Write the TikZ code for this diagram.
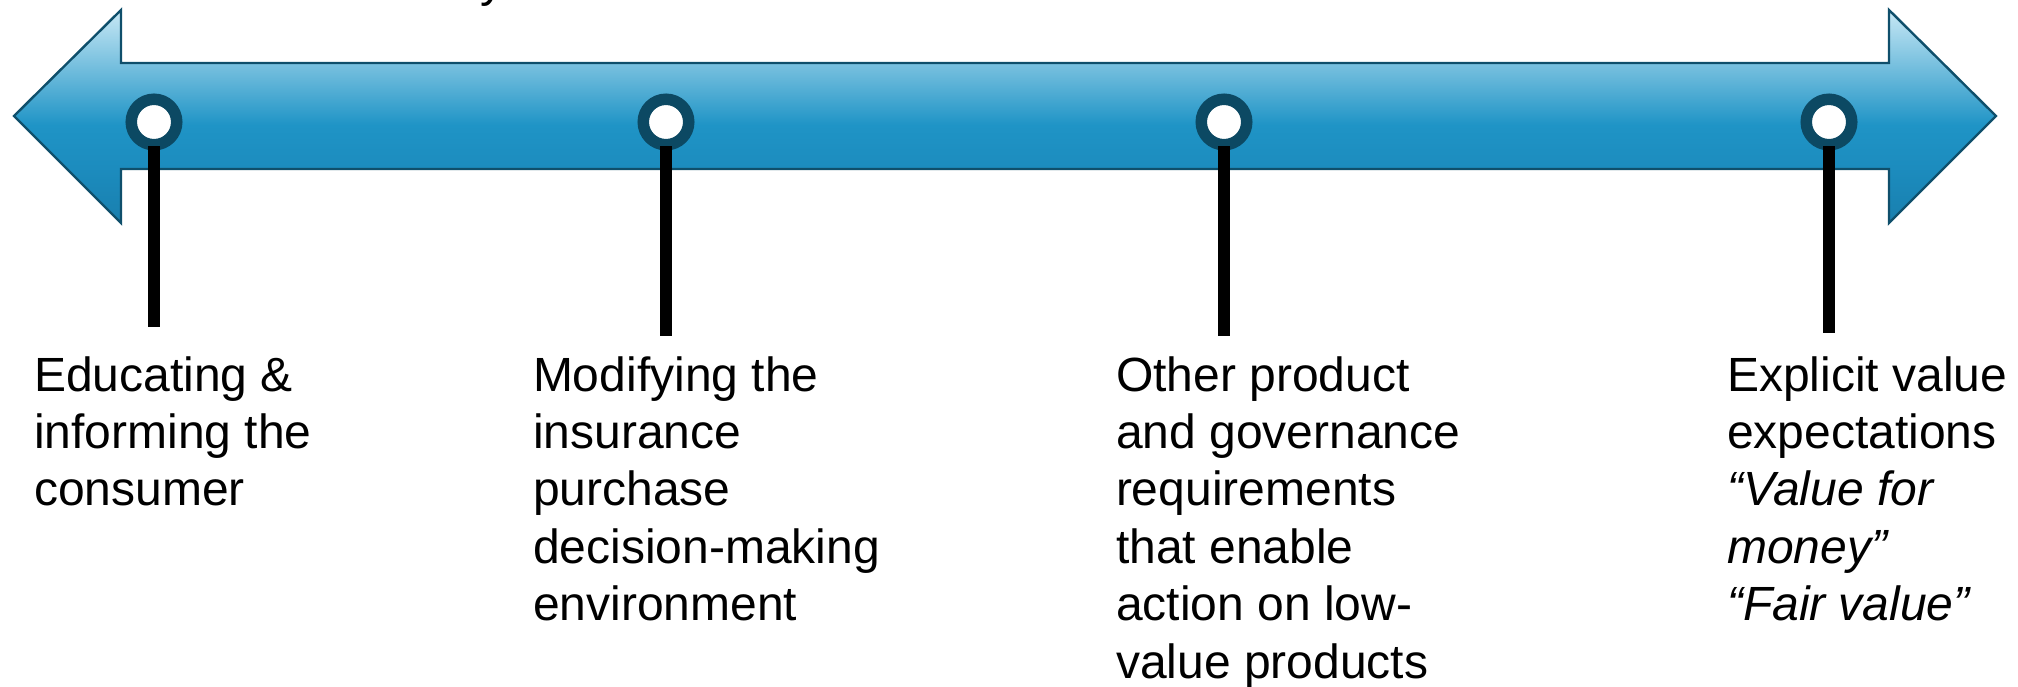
\documentclass[tikz,border=0pt]{standalone}
\usepackage{fontspec}
\setmainfont{Liberation Sans}
\definecolor{bandtop}{HTML}{C8E8F5}
\definecolor{bandmid}{HTML}{1F94C6}
\definecolor{bandlow}{HTML}{1C8CBE}
\definecolor{bandbot}{HTML}{197FAE}
\definecolor{bandedge}{HTML}{0F4F6B}
\definecolor{ringcol}{HTML}{0C4963}
% vertical fill of the band: pale at the top, deep blue from the middle down
\pgfdeclareverticalshading{bandshade}{100bp}{color(0bp)=(bandbot); color(25bp)=(bandbot);
  color(38bp)=(bandlow); color(48bp)=(bandmid); color(75bp)=(bandtop); color(100bp)=(bandtop)}
\begin{document}
\begin{tikzpicture}[x=0.5pt,y=-0.5pt,
  band/.style={draw=bandedge, line width=1.2pt, shading=bandshade, line join=miter},
  ring/.style={circle, draw=ringcol, fill=white, line width=5.75pt,
    minimum size=22.75pt, inner sep=0pt},
  stem/.style={line width=6pt, black},
  label/.style={font=\fontsize{24}{28.7}\selectfont, align=left,
    anchor=north west, inner sep=0pt, outer sep=0pt},
  ]
\useasboundingbox (0,0) rectangle (2018,686);

% descender of the heading line above the band
\begin{scope}
  \clip (0,0) rectangle (2018,686);
  \node[font=\fontsize{24}{28.7}\selectfont, anchor=base west, inner sep=0pt] (head) at (480,-4) {y};
\end{scope}

% double-headed band
\path[band] (14,116) -- (121,10) -- (121,63) -- (1889,63) -- (1889,10)
  -- (1996,116) -- (1889,223) -- (1889,169) -- (121,169) -- (121,223) -- cycle;

% markers on the band
\node[ring] (c1) at (154,122) {};
\node[ring] (c2) at (666,122) {};
\node[ring] (c3) at (1224,122) {};
\node[ring] (c4) at (1829,122) {};

% stem ends
\coordinate (s1) at (154,327);
\coordinate (s2) at (666,336);
\coordinate (s3) at (1224,336);
\coordinate (s4) at (1829,333);

\draw[stem] ([yshift=-12pt]c1.center) -- (s1);
\draw[stem] ([yshift=-12pt]c2.center) -- (s2);
\draw[stem] ([yshift=-12pt]c3.center) -- (s3);
\draw[stem] ([yshift=-12pt]c4.center) -- (s4);

% captions
\node[label] (t1) at (34,351) {\strut Educating \&\\\strut informing the\\\strut consumer};
\node[label] (t2) at (533,351) {\strut Modifying the\\\strut insurance\\\strut purchase\\\strut decision-making\\\strut environment};
\node[label] (t3) at (1116,351) {\strut Other product\\\strut and governance\\\strut requirements\\\strut that enable\\\strut action on low-\\\strut value products};
\node[label] (t4) at (1727,351) {\strut Explicit value\\\strut expectations\\\strut\itshape “Value for\\\strut\itshape money”\\\strut\itshape “Fair value”};
\end{tikzpicture}
\end{document}
